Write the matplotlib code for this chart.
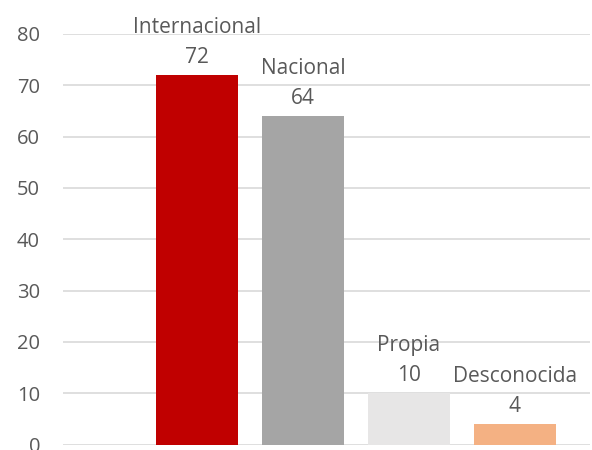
import matplotlib
matplotlib.use("Agg")
import matplotlib.pyplot as plt

categories = ["Internacional", "Nacional", "Propia", "Desconocida"]
values = [72, 64, 10, 4]
colors = ["#C00000", "#A5A5A5", "#E7E6E6", "#F4B183"]
yticks = [0, 10, 20, 30, 40, 50, 60, 70, 80]

plt.rcParams["font.family"] = ["Open Sans", "DejaVu Sans"]
text_color = "#595959"

fig = plt.figure(figsize=(5.92, 4.5), dpi=100)
ax = fig.add_axes([63 / 592, 5.5 / 450, (590 - 63) / 592, 410.5 / 450])

x = list(range(len(categories)))
ax.bar(x, values, width=0.78, color=colors, zorder=3)

ax.set_ylim(0, 80)
ax.set_xlim(-1.264, 3.708)
ax.set_yticks(yticks)
ax.set_yticklabels([str(t) for t in yticks])
ax.set_xticks([])
ax.tick_params(axis="y", length=0, pad=16.5, labelsize=14.5, labelcolor=text_color)
ax.grid(axis="y", color="#D9D9D9", linewidth=1.2, zorder=0)
for s in ax.spines.values():
    s.set_visible(False)

for xi, v, name in zip(x, values, categories):
    ax.annotate(str(v), (xi, v), xytext=(0, 7), textcoords="offset pixels",
                ha="center", va="bottom", fontsize=15, color=text_color,
                annotation_clip=False)
    ax.annotate(name, (xi, v), xytext=(0, 37), textcoords="offset pixels",
                ha="center", va="bottom", fontsize=15, color=text_color,
                annotation_clip=False)

fig.savefig("out.png", dpi=100)
